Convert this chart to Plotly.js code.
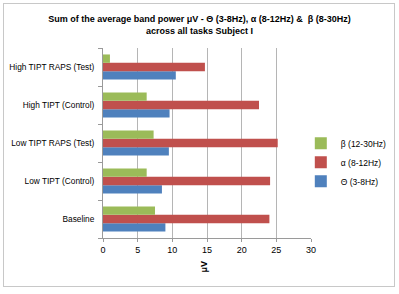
<!DOCTYPE html>
<html>
<head>
<meta charset="utf-8">
<script src="https://cdn.plot.ly/plotly-3.0.1.min.js"></script>
<style>
body{margin:0;padding:0;background:#fff;}
#wrap{position:relative;width:399px;height:294px;}
#chart{position:absolute;left:0;top:0;width:399px;height:294px;}
#frame{position:absolute;left:3px;top:3px;width:390px;height:282px;border:1px solid #c8c8c8;pointer-events:none;}
</style>
</head>
<body>
<div id="wrap"><div id="chart"></div><div id="frame"></div></div>
<script>
const categories = ["Baseline", "Low TIPT (Control)", "Low TIPT RAPS (Test)", "High TIPT (Control)", "High TIPT RAPS (Test)"];
const thetaValues = [9.0, 8.5, 9.5, 9.6, 10.5];
const alphaValues = [24.0, 24.1, 25.2, 22.5, 14.7];
const betaValues = [7.5, 6.3, 7.3, 6.3, 1.0];
const seriesNames = ["Θ (3-8Hz)", "α (8-12Hz)", "β (12-30Hz)"];
const xTicks = [0, 5, 10, 15, 20, 25, 30];
const titleText = "Sum of the average band power μV - Θ (3-8Hz), α (8-12Hz) &  β (8-30Hz)<br>across all tasks Subject I";
const xTitle = "μV";

const font = "Liberation Sans, Arial, sans-serif";
const traces = [
  {type:"bar", orientation:"h", name:seriesNames[0], y:categories, x:thetaValues, marker:{color:"#4F81BD"}},
  {type:"bar", orientation:"h", name:seriesNames[1], y:categories, x:alphaValues, marker:{color:"#C0504D"}},
  {type:"bar", orientation:"h", name:seriesNames[2], y:categories, x:betaValues, marker:{color:"#9BBB59"}}
];
const layout = {
  width:399, height:294,
  margin:{l:103, r:88, t:48, b:56, pad:0, autoexpand:false},
  paper_bgcolor:"rgba(0,0,0,0)", plot_bgcolor:"#fff",
  barmode:"group", bargap:0.34, bargroupgap:0,
  title:{text:titleText, font:{family:font, size:9.0, color:"#000", weight:"bold"}, x:0.5, xanchor:"center",
         yref:"container", y:0.924, yanchor:"middle"},
  font:{family:font, size:8.5, color:"#000"},
  xaxis:{range:[0,30], tickvals:xTicks, ticktext:xTicks.map(String), showgrid:true, gridcolor:"#b5b5b5", gridwidth:1,
         zeroline:false, showline:true, linecolor:"#9a9a9a", ticks:"outside", ticklen:3, tickcolor:"#9a9a9a",
         tickfont:{family:font, size:9, color:"#000"}, fixedrange:true, automargin:false},
  yaxis:{type:"category", showgrid:false, zeroline:false, showline:true, linecolor:"#9a9a9a",
         ticks:"outside", tickson:"boundaries", ticklen:4, tickcolor:"#9a9a9a",
         tickfont:{family:font, size:8.3, color:"#000"}, ticklabelstandoff:6, automargin:false},
  showlegend:true,
  legend:{x:0.951, xanchor:"left", y:0.575, yanchor:"top", traceorder:"reversed", font:{family:font, size:8.5, color:"#000"},
          itemwidth:30, bgcolor:"rgba(0,0,0,0)"},
  annotations:[{text:"<b>"+xTitle+"</b>", xref:"x", yref:"paper", x:14.5, y:-0.11, xanchor:"center", yanchor:"top",
                textangle:-90, showarrow:false, font:{family:font, size:9, color:"#000"}}]
};
Plotly.newPlot("chart", traces, layout, {displayModeBar:false, staticPlot:true});
</script>
</body>
</html>
